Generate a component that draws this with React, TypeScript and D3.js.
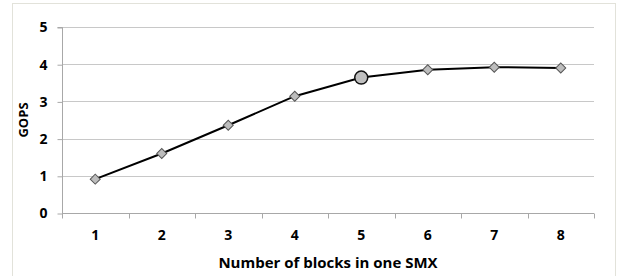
import { useRef, useEffect } from 'react';
import * as d3 from 'd3';

const categories = ['1', '2', '3', '4', '5', '6', '7', '8'];
const gops = [0.91, 1.6, 2.36, 3.14, 3.64, 3.85, 3.92, 3.9];
const yTicks = [0, 1, 2, 3, 4, 5];
const highlightIndex = 4;

export default function App() {
  const svgRef = useRef<SVGSVGElement | null>(null);
  const width = 622;
  const height = 276;

  useEffect(() => {
    const svg = d3.select(svgRef.current);
    svg.selectAll('*').remove();
    const margin = { top: 27, right: 28, bottom: 63, left: 62 };
    const font = "'Open Sans', 'Liberation Sans', sans-serif";

    svg
      .append('rect')
      .attr('x', 12.5)
      .attr('y', 3.5)
      .attr('width', 603)
      .attr('height', 280)
      .attr('fill', '#fff')
      .attr('stroke', '#e2e2da');

    const x = d3
      .scaleBand()
      .domain(categories)
      .range([margin.left, width - margin.right]);

    const y = d3
      .scaleLinear()
      .domain([0, 5])
      .range([height - margin.bottom, margin.top]);

    // gridlines
    svg
      .append('g')
      .selectAll('line')
      .data(yTicks.filter((d) => d > 0))
      .join('line')
      .attr('x1', margin.left)
      .attr('x2', width - margin.right)
      .attr('y1', (d) => Math.round(y(d)) + 0.5)
      .attr('y2', (d) => Math.round(y(d)) + 0.5)
      .attr('stroke', '#c8c8c8');

    // y axis
    const yAxis = svg
      .append('g')
      .attr('transform', `translate(${margin.left + 0.5},0.5)`)
      .call(
        d3
          .axisLeft(y)
          .tickValues(yTicks)
          .tickFormat(d3.format('d'))
          .tickSize(5)
          .tickPadding(10)
      );
    yAxis.select('.domain').attr('stroke', '#a8a8a8').attr('d', `M-5,${Math.round(y(5))}H0V${Math.round(y(0))}`);
    yAxis.selectAll('.tick line').attr('stroke', '#a8a8a8');
    yAxis
      .selectAll('text')
      .attr('font-family', font)
      .attr('font-weight', 700)
      .attr('font-size', 14)
      .attr('fill', '#000');

    // x axis
    const baseY = Math.round(y(0)) + 0.5;
    const xg = svg.append('g');
    xg.append('line')
      .attr('x1', margin.left)
      .attr('x2', width - margin.right)
      .attr('y1', baseY)
      .attr('y2', baseY)
      .attr('stroke', '#a8a8a8');
    const edges = categories.map((c) => x(c) as number).concat([width - margin.right]);
    xg.selectAll('line.tk')
      .data(edges)
      .join('line')
      .attr('class', 'tk')
      .attr('x1', (d) => Math.round(d) + 0.5)
      .attr('x2', (d) => Math.round(d) + 0.5)
      .attr('y1', baseY)
      .attr('y2', baseY + 5)
      .attr('stroke', '#a8a8a8');
    xg.selectAll('text')
      .data(categories)
      .join('text')
      .attr('x', (d) => (x(d) as number) + x.bandwidth() / 2)
      .attr('y', baseY + 26)
      .attr('text-anchor', 'middle')
      .attr('font-family', font)
      .attr('font-weight', 700)
      .attr('font-size', 14)
      .text((d) => d);

    // titles
    svg
      .append('text')
      .attr('x', (margin.left + width - margin.right) / 2)
      .attr('y', 268)
      .attr('text-anchor', 'middle')
      .attr('font-family', font)
      .attr('font-weight', 700)
      .attr('font-size', 15)
      .text('Number of blocks in one SMX');

    svg
      .append('text')
      .attr('transform', `translate(28,${y(2.5)}) rotate(-90)`)
      .attr('text-anchor', 'middle')
      .attr('font-family', font)
      .attr('font-weight', 700)
      .attr('font-size', 13)
      .text('GOPS');

    const cx = (i: number) => (x(categories[i]) as number) + x.bandwidth() / 2;

    const line = d3
      .line<number>()
      .x((_, i) => cx(i))
      .y((d) => y(d));

    svg
      .append('path')
      .datum(gops)
      .attr('fill', 'none')
      .attr('stroke', '#000')
      .attr('stroke-width', 2)
      .attr('d', line);

    const diamond = d3.symbol().type(d3.symbolSquare).size(50);

    svg
      .append('g')
      .selectAll('path')
      .data(gops.map((v, i) => ({ v, i })).filter((d) => d.i !== highlightIndex))
      .join('path')
      .attr('d', diamond)
      .attr('transform', (d) => `translate(${cx(d.i)},${y(d.v)}) rotate(45)`)
      .attr('fill', '#bdbdbd')
      .attr('stroke', '#555')
      .attr('stroke-width', 1);

    svg
      .append('circle')
      .attr('cx', cx(highlightIndex))
      .attr('cy', y(gops[highlightIndex]))
      .attr('r', 6.5)
      .attr('fill', '#bfbfbf')
      .attr('stroke', '#111')
      .attr('stroke-width', 1.5);
  }, []);

  return (
    <svg
      ref={svgRef}
      width={width}
      height={height}
      style={{ position: 'absolute', left: 0, top: 0 }}
    ></svg>
  );
}
